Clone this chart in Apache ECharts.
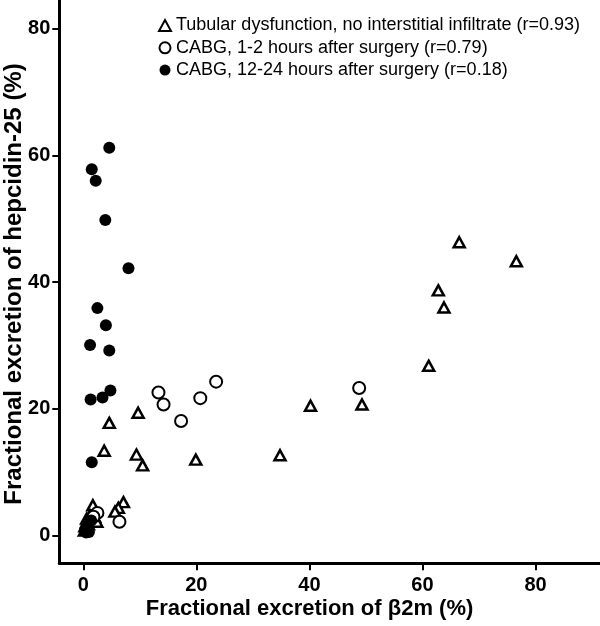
<!DOCTYPE html>
<html>
<head>
<meta charset="utf-8">
<script src="https://cdn.jsdelivr.net/npm/echarts@6/dist/echarts.min.js"></script>
<style>html,body{margin:0;padding:0;background:#fff;}#c{width:600px;height:626px;}</style>
</head>
<body>
<div id="c"></div>
<script>
const xTicks = [0, 20, 40, 60, 80];
const yTicks = [0, 20, 40, 60, 80];
const seriesNames = [
  'Tubular dysfunction, no interstitial infiltrate (r=0.93)',
  'CABG, 1-2 hours after surgery (r=0.79)',
  'CABG, 12-24 hours after surgery (r=0.18)'
];
const xTitle = 'Fractional excretion of β2m (%)';
const yTitle = 'Fractional excretion of hepcidin-25 (%)';

const tubularX = [66.5, 76.6, 62.8, 63.8, 61.1, 49.3, 40.2, 34.8, 19.9, 9.7, 4.6, 3.7, 9.4, 10.5, 7.1, 6.2, 5.6, 1.7, 0.6, 1.2, 2.0, 0.3, 0.9, 2.4, 0.2];
const tubularY = [46.3, 43.3, 38.7, 36.0, 26.8, 20.7, 20.5, 12.7, 12.0, 19.4, 17.8, 13.4, 12.8, 11.1, 5.3, 4.4, 3.8, 4.8, 2.7, 3.2, 3.0, 1.5, 1.8, 2.2, 0.8];

const earlyX = [13.3, 14.2, 17.3, 20.7, 23.5, 48.8, 6.4, 2.5, 1.8];
const earlyY = [22.6, 20.7, 18.1, 21.7, 24.3, 23.3, 2.2, 3.6, 3.0];

const lateX = [4.6, 1.5, 2.2, 3.9, 8.0, 2.5, 4.0, 1.2, 4.6, 4.8, 3.4, 1.3, 1.5, 0.3, 0.6, 1.0, 1.4, 0.5];
const lateY = [61.2, 57.8, 56.0, 49.8, 42.2, 35.9, 33.2, 30.1, 29.2, 22.9, 21.8, 21.5, 11.6, 1.0, 1.8, 0.6, 2.4, 0.5];

function pairs(xs, ys) { return xs.map((x, i) => [x, ys[i]]); }

const FONT = 'Liberation Sans, Arial, sans-serif';
const chart = echarts.init(document.getElementById('c'), null, { renderer: 'canvas' });

const axisCommon = {
  type: 'value',
  splitLine: { show: false },
  axisLine: { show: true, onZero: false, lineStyle: { color: '#000', width: 3 } },
  axisTick: { show: true, length: 7, lineStyle: { color: '#000', width: 2 } },
  axisLabel: { show: true, color: '#000', fontFamily: FONT, fontWeight: 'bold', fontSize: 20 }
};

chart.setOption({
  animation: false,
  backgroundColor: '#fff',
  grid: { left: 59.3, right: 0, top: 0, bottom: 62.7, containLabel: false },
  xAxis: Object.assign({}, axisCommon, {
    min: -4.24, max: 91.4,
    axisTick: Object.assign({}, axisCommon.axisTick, { customValues: xTicks }),
    axisLabel: Object.assign({}, axisCommon.axisLabel, { customValues: xTicks, margin: 12 })
  }),
  yAxis: Object.assign({}, axisCommon, {
    min: -4.35, max: 84.5,
    axisTick: Object.assign({}, axisCommon.axisTick, { customValues: yTicks }),
    axisLabel: Object.assign({}, axisCommon.axisLabel, { customValues: yTicks, margin: 9 })
  }),
  legend: {
    orient: 'vertical',
    left: 153, top: 11.5,
    padding: 5,
    itemWidth: 12, itemHeight: 11,
    itemGap: 4.3,
    textStyle: { color: '#000', fontFamily: FONT, fontSize: 18, lineHeight: 18 },
    data: seriesNames
  },
  graphic: [
    { type: 'text', style: { text: xTitle, fill: '#000', font: 'bold 22px ' + FONT, textAlign: 'center', textVerticalAlign: 'middle' }, position: [309.5, 609] },
    { type: 'text', style: { text: yTitle, fill: '#000', font: 'bold 24px ' + FONT, textAlign: 'center', textVerticalAlign: 'middle' }, position: [14, 284], rotation: Math.PI / 2 }
  ],
  series: [
    {
      name: seriesNames[0], type: 'scatter', symbol: 'triangle', symbolSize: [11, 10],
      itemStyle: { color: '#fff', borderColor: '#000', borderWidth: 2.5, opacity: 1 },
      data: pairs(tubularX, tubularY), z: 3
    },
    {
      name: seriesNames[1], type: 'scatter', symbol: 'circle', symbolSize: 12,
      itemStyle: { color: '#fff', borderColor: '#000', borderWidth: 2, opacity: 1 },
      data: pairs(earlyX, earlyY), z: 4
    },
    {
      name: seriesNames[2], type: 'scatter', symbol: 'circle', symbolSize: 12,
      itemStyle: { color: '#000', borderColor: '#000', borderWidth: 0, opacity: 1 },
      data: pairs(lateX, lateY), z: 5
    }
  ]
});
</script>
</body>
</html>
